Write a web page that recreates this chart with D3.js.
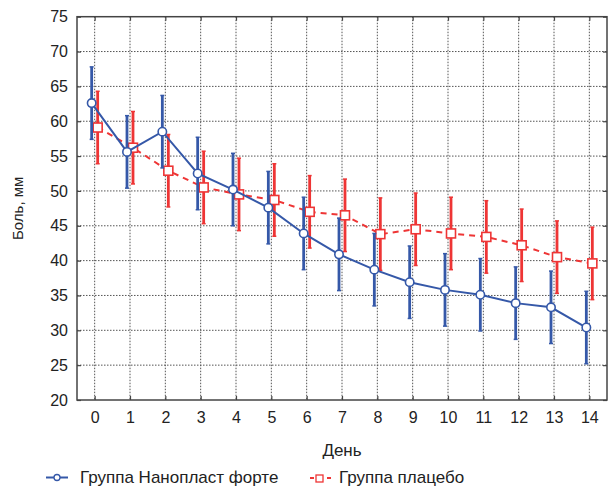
<!DOCTYPE html>
<html lang="ru">
<head>
<meta charset="UTF-8" />
<title>Боль, мм</title>
<script src="https://cdn.jsdelivr.net/npm/d3@7"></script>
<style>
  body { margin: 0; background: #fff; }
  text { font-family: "Liberation Sans", Arial, sans-serif; fill: #222; }
  .grid line { stroke: #555; stroke-width: 1; stroke-dasharray: 1.5,1.5; }
  .frame { fill: none; stroke: #444; stroke-width: 1.5; }
  .nano { fill: none; stroke: #3558a8; stroke-width: 2; }
  .placebo { fill: none; stroke: #ee3535; stroke-width: 2; stroke-dasharray: 6,5; }
</style>
</head>
<body>
<script>
// days and group means / error half-widths
var days = [0, 1, 2, 3, 4, 5, 6, 7, 8, 9, 10, 11, 12, 13, 14];
var nanoMean = [62.6, 55.6, 58.5, 52.5, 50.2, 47.6, 43.9, 40.9, 38.7, 36.9, 35.8, 35.1, 33.9, 33.3, 30.4];
var nanoErr = [5.2, 5.2, 5.2, 5.2, 5.2, 5.2, 5.2, 5.2, 5.2, 5.2, 5.2, 5.2, 5.2, 5.2, 5.2];
var placeboMean = [59.1, 56.2, 52.9, 50.5, 49.5, 48.7, 47.0, 46.5, 43.8, 44.5, 43.9, 43.4, 42.2, 40.5, 39.6];
var placeboErr = [5.2, 5.2, 5.2, 5.2, 5.2, 5.2, 5.2, 5.2, 5.2, 5.2, 5.2, 5.2, 5.2, 5.2, 5.2];
var yTicks = [20, 25, 30, 35, 40, 45, 50, 55, 60, 65, 70, 75];

var W = 608, H = 487;
var margin = { left: 77, right: 607, top: 16.7, bottom: 400 };
var blue = "#3558a8", red = "#ee3535";

var svg = d3.select("body").append("svg")
  .attr("width", W)
  .attr("height", H);

var x = d3.scaleLinear().domain([-0.5, 14.5]).range([margin.left, margin.right]);
var y = d3.scaleLinear().domain([20, 75]).range([margin.bottom, margin.top]);

// grid
var grid = svg.append("g").attr("class", "grid");
grid.selectAll(".vg").data(days).enter().append("line")
  .attr("x1", d => x(d)).attr("x2", d => x(d))
  .attr("y1", margin.top).attr("y2", margin.bottom);
grid.selectAll(".hg").data(yTicks.slice(1, -1)).enter().append("line")
  .attr("x1", margin.left).attr("x2", margin.right)
  .attr("y1", d => y(d)).attr("y2", d => y(d));

// axes with inner ticks
var xAxis = d3.axisBottom(x).tickValues(days).tickSize(-4).tickPadding(12);
var yAxis = d3.axisLeft(y).tickValues(yTicks).tickSize(-4).tickPadding(9);
var gx = svg.append("g").attr("transform", "translate(0," + margin.bottom + ")").call(xAxis);
var gy = svg.append("g").attr("transform", "translate(" + margin.left + ",0)").call(yAxis);
svg.append("g").attr("transform", "translate(0," + margin.top + ")")
  .call(d3.axisTop(x).tickValues(days).tickSize(-4).tickFormat(""));
svg.append("g").attr("transform", "translate(" + margin.right + ",0)")
  .call(d3.axisRight(y).tickValues(yTicks).tickSize(-4).tickFormat(""));
svg.selectAll(".domain").remove();
svg.selectAll(".tick line").attr("stroke", "#444").attr("stroke-width", 1.2);
gx.selectAll("text").style("font-size", "16px").attr("fill", "#222");
gy.selectAll("text").style("font-size", "16px").attr("fill", "#222");

svg.append("rect").attr("class", "frame")
  .attr("x", margin.left).attr("y", margin.top)
  .attr("width", margin.right - margin.left).attr("height", margin.bottom - margin.top);

// series
function drawSeries(mean, err, dx, color, cls, marker) {
  var pts = days.map((d, i) => ({ d: d, m: mean[i], e: err[i] }));
  var g = svg.append("g");
  var line = d3.line().x(p => x(p.d) + dx).y(p => y(p.m));
  g.append("path").datum(pts).attr("class", cls).attr("d", line);

  var eb = g.selectAll(".eb").data(pts).enter().append("g");
  eb.append("line")
    .attr("x1", p => x(p.d) + dx).attr("x2", p => x(p.d) + dx)
    .attr("y1", p => y(p.m - p.e)).attr("y2", p => y(p.m + p.e))
    .attr("stroke", color).attr("stroke-width", 2.8);
  [1, -1].forEach(function(s) {
    eb.append("line")
      .attr("x1", p => x(p.d) + dx - 2).attr("x2", p => x(p.d) + dx + 2)
      .attr("y1", p => y(p.m + s * p.e)).attr("y2", p => y(p.m + s * p.e))
      .attr("stroke", color).attr("stroke-width", 1.5);
  });

  if (marker === "circle") {
    g.selectAll(".mk").data(pts).enter().append("circle")
      .attr("cx", p => x(p.d) + dx).attr("cy", p => y(p.m)).attr("r", 4.2)
      .attr("fill", "#fff").attr("stroke", color).attr("stroke-width", 1.6);
  } else {
    g.selectAll(".mk").data(pts).enter().append("rect")
      .attr("x", p => x(p.d) + dx - 4.5).attr("y", p => y(p.m) - 4.5)
      .attr("width", 9).attr("height", 9)
      .attr("fill", "#fff").attr("stroke", color).attr("stroke-width", 1.6);
  }
}
drawSeries(placeboMean, placeboErr, 3, red, "placebo", "square");
drawSeries(nanoMean, nanoErr, -3, blue, "nano", "circle");

// titles
svg.append("text")
  .attr("transform", "translate(23," + ((margin.top + margin.bottom) / 2) + ")rotate(-90)")
  .attr("text-anchor", "middle")
  .style("font-size", "15px")
  .text("Боль, мм");
svg.append("text")
  .attr("x", 342).attr("y", 456)
  .attr("text-anchor", "middle")
  .style("font-size", "17px")
  .text("День");

// legend
var lg = svg.append("g");
lg.append("line").attr("x1", 46).attr("x2", 68).attr("y1", 477.5).attr("y2", 477.5)
  .attr("stroke", blue).attr("stroke-width", 2);
lg.append("circle").attr("cx", 57).attr("cy", 477.5).attr("r", 3)
  .attr("fill", "#fff").attr("stroke", blue).attr("stroke-width", 1.3);
lg.append("text").attr("x", 80).attr("y", 483).style("font-size", "17px")
  .text("Группа Нанопласт форте");
lg.append("line").attr("x1", 310).attr("x2", 331).attr("y1", 478).attr("y2", 478)
  .attr("stroke", red).attr("stroke-width", 2).attr("stroke-dasharray", "4,13,4");
lg.append("rect").attr("x", 316).attr("y", 475).attr("width", 7).attr("height", 7)
  .attr("fill", "#fff").attr("stroke", red).attr("stroke-width", 1.3);
lg.append("text").attr("x", 339).attr("y", 483).style("font-size", "17px")
  .text("Группа плацебо");
</script>
</body>
</html>
